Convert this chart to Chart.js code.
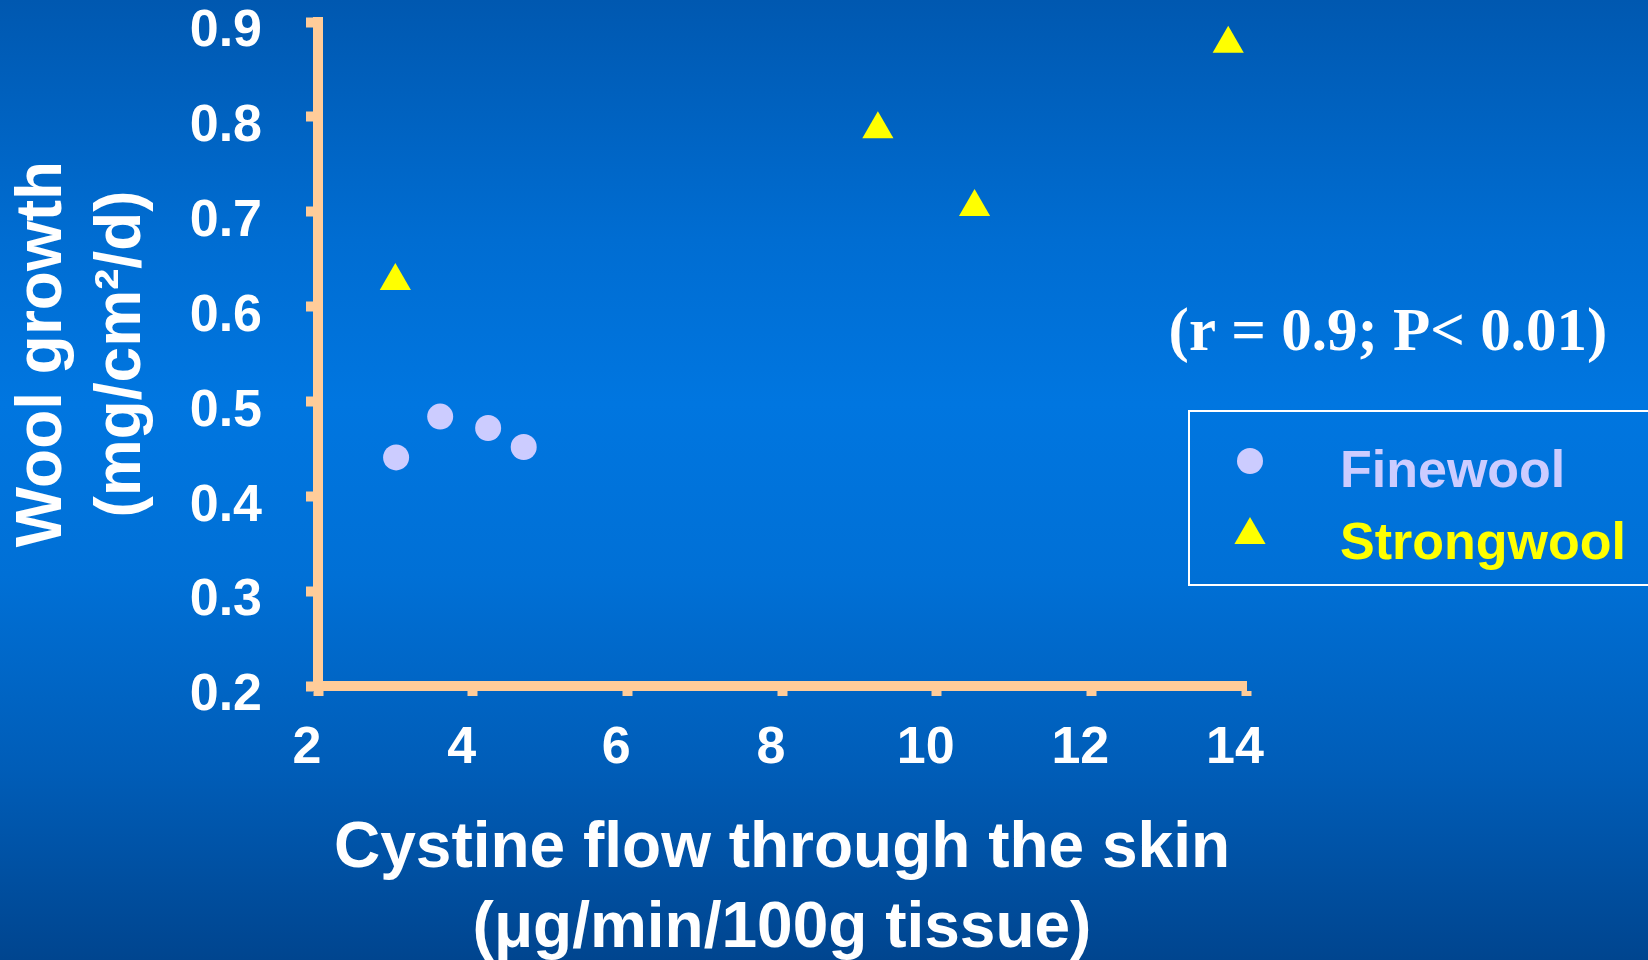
<!DOCTYPE html>
<html>
<head>
<meta charset="utf-8">
<script src="https://cdn.jsdelivr.net/npm/chart.js@4.4.0/dist/chart.umd.min.js"></script>
<style>
html, body { margin: 0; padding: 0; }
body {
    width: 1648px; height: 960px; overflow: hidden;
    background: linear-gradient(to bottom, #0058B0 0%, #006DD2 25%, #0076E0 42%, #0070D6 60%, #005DB8 80%, #00458F 100%);
}
#wrap { position: relative; width: 1648px; height: 960px; }
</style>
</head>
<body>
<div id="wrap"><canvas id="myChart" width="1648" height="960"></canvas></div>
<script>
// Dados
const finewoolX = [3.01, 3.58, 4.20, 4.66];
const finewoolY = [0.441, 0.484, 0.472, 0.452];
const strongwoolX = [3.00, 9.24, 10.49, 13.77];
const strongwoolY = [0.627, 0.787, 0.705, 0.877];

const seriesNames = ['Finewool', 'Strongwool'];
const xTicks = [2, 4, 6, 8, 10, 12, 14];
const yTicks = [0.2, 0.3, 0.4, 0.5, 0.6, 0.7, 0.8, 0.9];
const xTitle = ['Cystine flow through the skin', '(\u03bcg/min/100g tissue)'];
const yTitle = ['Wool growth', '(mg/cm\u00b2/d)'];
const statsText = '(r = 0.9; P< 0.01)';

const axisColor = '#FFCC99';
const fineColor = '#CCCCFF';
const strongColor = '#FFFF00';
const sansFont = "'Liberation Sans', Arial, sans-serif";

// legenda com caixa branca + texto de correlacao
const overlayPlugin = {
    id: 'overlay',
    afterDraw(chart) {
        const ctx = chart.ctx;
        ctx.save();
        ctx.fillStyle = '#FFFFFF';
        ctx.font = "bold 61px 'Liberation Serif', serif";
        ctx.textAlign = 'center';
        ctx.textBaseline = 'alphabetic';
        ctx.fillText(statsText, 1388, 350);

        ctx.strokeStyle = '#FFFFFF';
        ctx.lineWidth = 2;
        ctx.strokeRect(1189, 411, 500, 174);

        const rowY = [461, 535];
        const textY = [487, 559];
        chart.data.datasets.forEach((ds, i) => {
            ctx.fillStyle = ds.backgroundColor;
            ctx.strokeStyle = ds.borderColor;
            Chart.helpers.drawPoint(ctx, {
                pointStyle: ds.pointStyle,
                radius: ds.pointRadius,
                rotation: 0,
                borderWidth: 0
            }, 1250, rowY[i]);
            ctx.fillStyle = ds.backgroundColor;
            ctx.font = 'bold 52px ' + sansFont;
            ctx.textAlign = 'left';
            ctx.fillText(ds.label, 1340, textY[i]);
        });
        ctx.restore();
    }
};

function makePoints(xs, ys) {
    return xs.map((x, i) => ({ x: x, y: ys[i] }));
}

const ctx = document.getElementById('myChart').getContext('2d');
const chart = new Chart(ctx, {
    type: 'scatter',
    data: {
        datasets: [{
            label: seriesNames[0],
            data: makePoints(finewoolX, finewoolY),
            pointStyle: 'circle',
            pointRadius: 13,
            backgroundColor: fineColor,
            borderColor: fineColor,
            borderWidth: 0,
            clip: false
        }, {
            label: seriesNames[1],
            data: makePoints(strongwoolX, strongwoolY),
            pointStyle: 'triangle',
            pointRadius: 18,
            backgroundColor: strongColor,
            borderColor: strongColor,
            borderWidth: 0,
            clip: false
        }]
    },
    options: {
        responsive: false,
        devicePixelRatio: 1,
        animation: false,
        layout: { padding: { left: 0, top: 22, right: 402, bottom: 0 } },
        plugins: {
            legend: { display: false },
            tooltip: { enabled: false }
        },
        scales: {
            x: {
                type: 'linear',
                position: 'bottom',
                min: xTicks[0],
                max: xTicks[xTicks.length - 1],
                afterBuildTicks: s => { s.ticks = xTicks.map(v => ({ value: v })); },
                afterFit: s => { s.height = 274; s.paddingLeft = 0; s.paddingRight = 0; },
                border: { display: true, color: axisColor, width: 10 },
                grid: {
                    drawOnChartArea: false,
                    drawTicks: true,
                    tickLength: 10,
                    tickWidth: 10,
                    tickColor: axisColor
                },
                ticks: {
                    color: '#FFFFFF',
                    font: { family: sansFont, size: 52, weight: 'bold' },
                    padding: 21,
                    labelOffset: -11,
                    maxRotation: 0,
                    autoSkip: false,
                    callback: v => String(v)
                },
                title: {
                    display: true,
                    text: xTitle,
                    color: '#FFFFFF',
                    font: { family: sansFont, size: 64, weight: 'bold', lineHeight: 1.25 },
                    padding: { top: 0, bottom: -9 }
                }
            },
            y: {
                type: 'linear',
                position: 'left',
                min: yTicks[0],
                max: yTicks[yTicks.length - 1],
                afterBuildTicks: s => { s.ticks = yTicks.map(v => ({ value: v })); },
                afterFit: s => { s.width = 318; s.paddingTop = 0; s.paddingBottom = 0; },
                border: { display: true, color: axisColor, width: 10 },
                grid: {
                    drawOnChartArea: false,
                    drawTicks: true,
                    tickLength: 12,
                    tickWidth: 10,
                    tickColor: axisColor
                },
                ticks: {
                    color: '#FFFFFF',
                    font: { family: sansFont, size: 52, weight: 'bold' },
                    padding: 44,
                    labelOffset: 10,
                    autoSkip: false,
                    callback: v => v.toFixed(1)
                },
                title: {
                    display: true,
                    text: yTitle,
                    color: '#FFFFFF',
                    font: { family: sansFont, size: 64, weight: 'bold', lineHeight: 1.234 },
                    padding: { top: 4, bottom: 0 }
                }
            }
        }
    },
    plugins: [overlayPlugin]
});
</script>
</body>
</html>
